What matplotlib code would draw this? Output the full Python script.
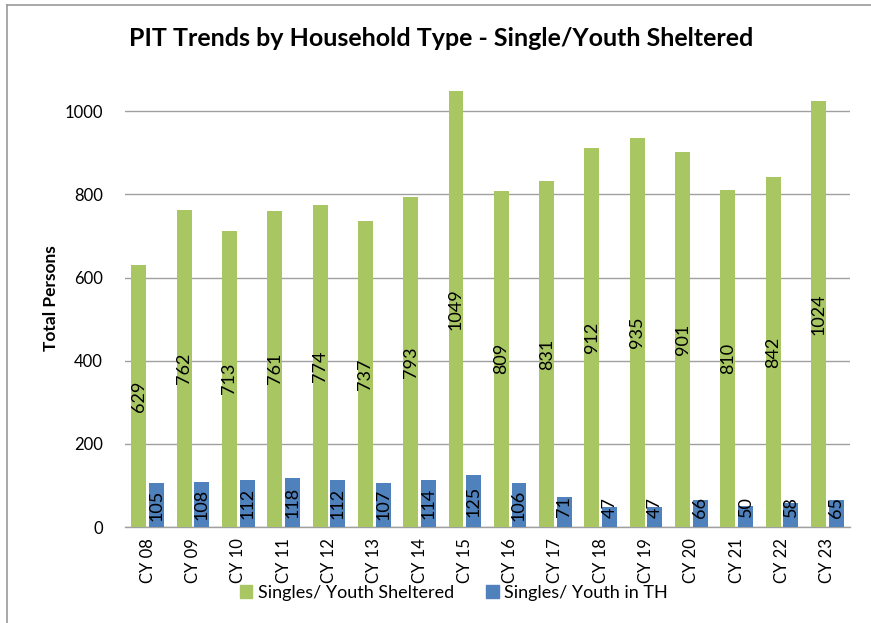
import numpy as np
import matplotlib.pyplot as plt
from matplotlib.lines import Line2D

plt.rcParams['font.family'] = ['Lato', 'DejaVu Sans']

years = ["CY 08", "CY 09", "CY 10", "CY 11", "CY 12", "CY 13", "CY 14", "CY 15",
         "CY 16", "CY 17", "CY 18", "CY 19", "CY 20", "CY 21", "CY 22", "CY 23"]
sheltered = [629, 762, 713, 761, 774, 737, 793, 1049, 809, 831, 912, 935, 901, 810, 842, 1024]
in_th = [105, 108, 112, 118, 112, 107, 114, 125, 106, 71, 47, 47, 66, 50, 58, 65]

green = "#A8C763"
blue = "#4F81BD"

fig = plt.figure(figsize=(8.71, 6.23), dpi=100)
ax = fig.add_axes([125 / 871, 1 - 527 / 623, (850 - 125) / 871, (527 - 70) / 623])

x = np.arange(len(years))
w = 0.33
ax.bar(x - 0.195, sheltered, w, color=green, zorder=3)
ax.bar(x + 0.195, in_th, w, color=blue, zorder=3)

for xi, v in zip(x, sheltered):
    ax.text(xi - 0.195, v / 2, str(v), rotation=90, ha="center", va="center",
            fontsize=13, zorder=4)
for xi, v in zip(x, in_th):
    ax.text(xi + 0.195, max(v / 2, 48), str(v), rotation=90, ha="center", va="center",
            fontsize=13, zorder=4)

ax.set_xlim(-0.5, len(years) - 0.5)
ax.set_ylim(0, 1099)
ax.set_yticks([0, 200, 400, 600, 800, 1000])
ax.set_xticks(x)
ax.set_xticklabels(years, rotation=90, fontsize=12)
ax.tick_params(axis="y", labelsize=12, length=0, pad=16)
ax.tick_params(axis="x", length=0, pad=8)
ax.grid(axis="y", color="#A0A0A0", linewidth=1.0, zorder=0)
for s in ["top", "right", "left"]:
    ax.spines[s].set_visible(False)
ax.spines["bottom"].set_color("#A0A0A0")
ax.spines["bottom"].set_linewidth(1.0)

ax.set_ylabel("Total Persons", fontsize=12.5, fontweight="bold", labelpad=4)
fig.text(0.507, 1 - 38 / 623, "PIT Trends by Household Type - Single/Youth Sheltered",
         ha="center", va="center", fontsize=18, fontweight="bold")

handles = [plt.Rectangle((0, 0), 1, 1, color=green), plt.Rectangle((0, 0), 1, 1, color=blue)]
fig.legend(handles, ["Singles/ Youth Sheltered", "Singles/ Youth in TH"],
           loc="center", bbox_to_anchor=(0.521, 1 - 593 / 623), ncol=2, frameon=False,
           fontsize=13, handlelength=0.7, handleheight=0.7, handletextpad=0.3,
           columnspacing=1.8)

# figure border (top and left only, as cropped)
fig.add_artist(Line2D([7 / 871, 1.0], [1 - 5 / 623, 1 - 5 / 623], color="#999999", linewidth=1.2))
fig.add_artist(Line2D([7 / 871, 7 / 871], [0, 1 - 5 / 623], color="#999999", linewidth=1.2))

fig.savefig("out.png", dpi=100)
